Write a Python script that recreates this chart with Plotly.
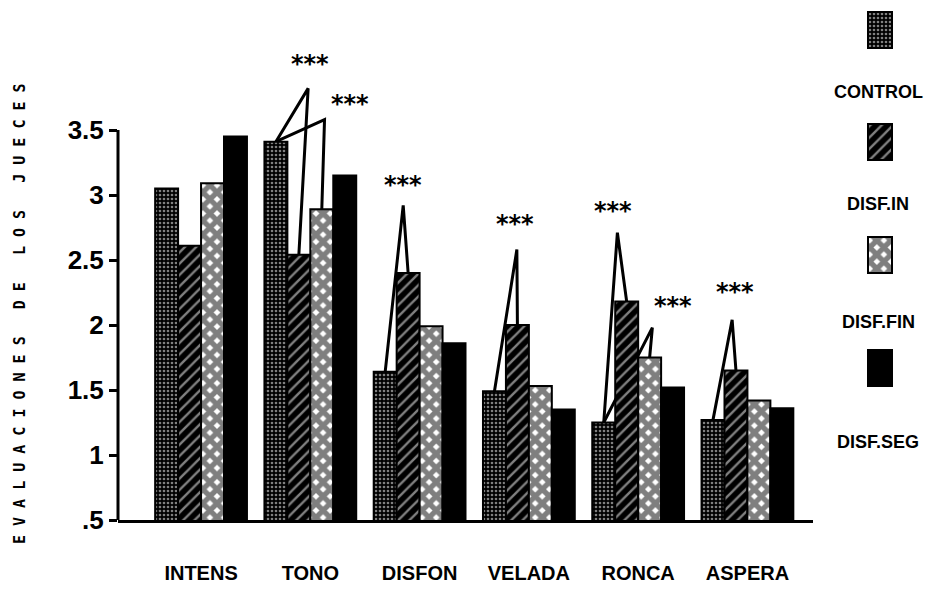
import plotly.graph_objects as go

# ---- data ----
categories = ["INTENS", "TONO", "DISFON", "VELADA", "RONCA", "ASPERA"]
series_names = ["CONTROL", "DISF.IN", "DISF.FIN", "DISF.SEG"]
control = [3.05, 3.41, 1.64, 1.49, 1.25, 1.27]
disf_in = [2.61, 2.54, 2.40, 2.00, 2.18, 1.65]
disf_fin = [3.09, 2.89, 1.99, 1.53, 1.75, 1.42]
disf_seg = [3.45, 3.15, 1.86, 1.35, 1.52, 1.36]
tick_values = [0.5, 1, 1.5, 2, 2.5, 3, 3.5]
tick_labels = [".5", "1", "1.5", "2", "2.5", "3", "3.5"]

# significance brackets: group, from-series, to-series, apex value, apex x offset
sig_group = [1, 1, 2, 3, 4, 4, 5]
sig_from = [0, 0, 0, 0, 0, 0, 0]
sig_to = [1, 2, 1, 1, 1, 2, 1]
sig_peak = [3.82, 3.58, 2.92, 2.58, 2.71, 1.98, 2.04]
sig_peak_dx = [-0.02, 0.13, -0.15, -0.11, -0.19, 0.13, -0.14]
sig_label = ["***"] * 7
# star label placement (pixels relative to apex)
star_dx = [2, 25, 0, -2, -4, 21, 3]
star_dy = [24, 16, 20, 26, 22, 22, 28]

values = [control, disf_in, disf_fin, disf_seg]

# ---- styling ----
W, H = 928, 601
BAR_W = 0.21
patterns = [
    dict(shape=".", bgcolor="black", fgcolor="white", size=4, solidity=0.35),
    dict(shape="/", bgcolor="black", fgcolor="white", size=8, solidity=0.3),
    dict(shape="x", bgcolor="white", fgcolor="black", size=10, solidity=0.78),
    dict(shape="", bgcolor="black", fgcolor="black"),
]
LABEL_FONT = "Liberation Sans, Arial, sans-serif"

fig = go.Figure()

x_idx = list(range(len(categories)))
for j, (name, vals) in enumerate(zip(series_names, values)):
    fig.add_trace(go.Bar(
        x=x_idx, y=vals, name=name, width=BAR_W,
        marker=dict(color="black", pattern=patterns[j],
                    line=dict(color="black", width=2)),
        showlegend=False,
    ))


def bar_x(g, s):
    return g + (s - 1.5) * BAR_W


# bracket lines drawn beneath the bars
for g, f, t, pk, dx in zip(sig_group, sig_from, sig_to, sig_peak, sig_peak_dx):
    x0, y0 = bar_x(g, f), values[f][g]
    xp, yp = g + dx, pk
    x1, y1 = bar_x(g, t), values[t][g]
    fig.add_shape(type="path", xref="x", yref="y", layer="below",
                  path=f"M {x0},{y0} L {xp},{yp} L {x1},{y1}",
                  line=dict(color="black", width=3))

for g, pk, dx, lab, sx, sy in zip(sig_group, sig_peak, sig_peak_dx, sig_label, star_dx, star_dy):
    fig.add_annotation(x=g + dx, y=pk, xref="x", yref="y", text=lab,
                       showarrow=False, xshift=sx, yshift=sy,
                       font=dict(family="DejaVu Sans", size=24, color="black", weight="bold"))

# y axis spine from .5 up to 3.5
fig.add_shape(type="line", xref="paper", yref="y",
              x0=118 / W, x1=118 / W, y0=tick_values[0], y1=tick_values[-1],
              line=dict(color="black", width=3))

# legend: swatch above each label on the right
sw_top = [12, 124, 237, 350]
lab_y = [92, 204, 322, 442]
for j, name in enumerate(series_names):
    fig.add_trace(go.Bar(
        x=[880], y=[36], base=[sw_top[j]], width=[24], offset=-12,
        xaxis="x2", yaxis="y2",
        marker=dict(color="black", pattern=patterns[j],
                    line=dict(color="black", width=2)),
        showlegend=False, hoverinfo="skip",
    ))
    fig.add_annotation(x=878 / W, y=1 - lab_y[j] / H, xref="paper", yref="paper",
                       text=name, showarrow=False, xanchor="center", yanchor="middle",
                       font=dict(family=LABEL_FONT, size=18, color="black", weight="bold"))

# spaced axis title
words = ["EVALUACIONES", "DE", "LOS", "JUECES"]
title = "\u2009 \u2009".join("\u2009".join(w) for w in words)
fig.add_annotation(x=20 / W, y=1 - 314 / H, xref="paper", yref="paper",
                   text=title, textangle=-90, showarrow=False,
                   xanchor="center", yanchor="middle",
                   font=dict(family="DejaVu Sans Mono", size=15, color="black", weight="bold"))

fig.update_layout(
    width=W, height=H,
    margin=dict(l=0, r=0, t=0, b=0, autoexpand=False),
    paper_bgcolor="white", plot_bgcolor="rgba(0,0,0,0)",
    barmode="group", bargap=0.16, bargroupgap=0,
    xaxis=dict(domain=[118 / W, 813 / W], range=[-0.76, 5.6],
               tickvals=x_idx, ticktext=categories, ticks="",
               showline=True, linecolor="black", linewidth=3,
               showgrid=False, zeroline=False, ticklabelstandoff=33,
               tickfont=dict(family=LABEL_FONT, size=20, color="black", weight="bold")),
    yaxis=dict(domain=[81 / H, 536 / H], range=[0.5, 4.0],
               tickvals=tick_values, ticktext=tick_labels,
               ticks="outside", ticklen=8, tickwidth=3, tickcolor="black",
               showline=False, showgrid=False, zeroline=False,
               tickfont=dict(family=LABEL_FONT, size=26, color="black", weight="bold")),
    xaxis2=dict(domain=[0, 1], range=[0, W], anchor="y2", visible=False, fixedrange=True),
    yaxis2=dict(domain=[0, 1], range=[H, 0], anchor="x2", visible=False, fixedrange=True),
    showlegend=False,
)

fig.write_html("out.html")
